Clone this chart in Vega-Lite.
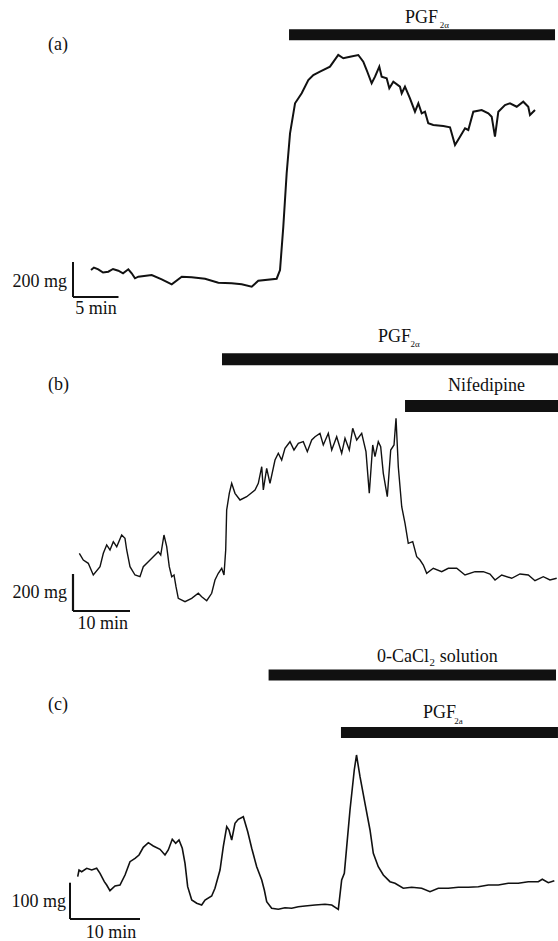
{
  "$schema": "https://vega.github.io/schema/vega-lite/v6.json",
  "padding": 0,
  "spacing": 0,
  "bounds": "flush",
  "background": "white",
  "config": {"view": {"stroke": null}, "text": {"font": "Liberation Serif", "color": "#111"}},
  "vconcat": [
    {
      "width": 558, "height": 320,
      "layer": [
        {
          "data": {"values": [
            {"t":1.98,"mg":154.3},{"t":2.3,"mg":168},{"t":2.78,"mg":158.3},{"t":3.3,"mg":140},{"t":3.88,"mg":144.6},{"t":4.4,"mg":160},{"t":4.98,"mg":150.3},{"t":5.5,"mg":135},{"t":6.08,"mg":158.3},{"t":6.45,"mg":135.4},{"t":6.81,"mg":106.9},{"t":7.18,"mg":116},{"t":8.65,"mg":125.7},{"t":9.75,"mg":101.1},{"t":10.85,"mg":72.6},{"t":11.95,"mg":116},{"t":13.04,"mg":112.6},{"t":14.51,"mg":104.6},{"t":15.97,"mg":81.7},{"t":17.44,"mg":78.3},{"t":18.54,"mg":72.6},{"t":19.64,"mg":58.9},{"t":20.36,"mg":93.1},{"t":22.38,"mg":104.6},{"t":22.75,"mg":154.3},{"t":23.11,"mg":401.7},{"t":23.48,"mg":706.9},{"t":23.85,"mg":935.4},{"t":24.4,"mg":1106.9},{"t":25.13,"mg":1164},{"t":25.86,"mg":1240},{"t":26.41,"mg":1268.6},{"t":27.14,"mg":1287.4},{"t":28.24,"mg":1316},{"t":29.15,"mg":1382.9},{"t":29.7,"mg":1364},{"t":30.44,"mg":1373.1},{"t":31.35,"mg":1382.9},{"t":31.9,"mg":1344.6},{"t":32.27,"mg":1297.1},{"t":32.82,"mg":1221.1},{"t":33.19,"mg":1258.9},{"t":33.66,"mg":1316},{"t":33.92,"mg":1258.9},{"t":34.47,"mg":1249.7},{"t":34.76,"mg":1192.6},{"t":35.2,"mg":1230.3},{"t":35.93,"mg":1201.7},{"t":36.12,"mg":1164},{"t":36.48,"mg":1201.7},{"t":37.03,"mg":1135.4},{"t":37.58,"mg":1058.9},{"t":37.95,"mg":1106.9},{"t":38.32,"mg":1049.7},{"t":38.68,"mg":1058.9},{"t":39.04,"mg":992.6},{"t":39.59,"mg":982.9},{"t":40.69,"mg":977.1},{"t":41.43,"mg":969.7},{"t":41.98,"mg":868.6},{"t":42.53,"mg":916},{"t":43.08,"mg":964},{"t":43.44,"mg":954.3},{"t":43.99,"mg":1058.9},{"t":44.91,"mg":1068.6},{"t":45.64,"mg":1049.7},{"t":46.01,"mg":1030.3},{"t":46.37,"mg":916},{"t":46.74,"mg":1058.9},{"t":47.47,"mg":1097.1},{"t":48.02,"mg":1106.9},{"t":48.76,"mg":1087.4},{"t":49.48,"mg":1116},{"t":50.03,"mg":1087.4},{"t":50.22,"mg":1040},{"t":50.77,"mg":1068.6}
          ]},
          "mark": {"type": "line", "color": "#111", "strokeWidth": 2},
          "encoding": {
            "x": {"field": "t", "type": "quantitative", "scale": {"domain": [-8.022, 53.297], "nice": false, "zero": false}, "axis": null},
            "y": {"field": "mg", "type": "quantitative", "scale": {"domain": [-131.4, 1697.1], "nice": false, "zero": false}, "axis": null}
          }
        },
        {
          "data": {"values": [{"drug": "PGF2α", "start": 23.74, "end": 52.97, "level": 1498.9}]},
          "mark": {"type": "rule", "color": "#111", "strokeWidth": 11, "strokeCap": "butt"},
          "encoding": {
            "x": {"field": "start", "type": "quantitative"},
            "x2": {"field": "end"},
            "y": {"field": "level", "type": "quantitative"}
          }
        },
        {
          "data": {"values": [{"t":0,"t2":0,"mg":0,"mg2":200},{"t":0,"t2":5,"mg":0,"mg2":0}]},
          "mark": {"type": "rule", "color": "#111", "strokeWidth": 2},
          "encoding": {
            "x": {"field": "t", "type": "quantitative"},
            "x2": {"field": "t2"},
            "y": {"field": "mg", "type": "quantitative"},
            "y2": {"field": "mg2"}
          }
        },
        {
          "data": {"values": [{"label":"(a)","t":-2.747,"mg":1440},{"label":"PGF","t":36.48,"mg":1592.6}]},
          "mark": {"type": "text", "font": "Liberation Serif, DejaVu Serif, serif", "fontSize": 18, "align": "left", "baseline": "middle"},
          "encoding": {"x": {"field": "t", "type": "quantitative"}, "y": {"field": "mg", "type": "quantitative"}, "text": {"field": "label"}}
        },
        {
          "data": {"values": [{"label":"2α","t":40.3,"mg":1555}]},
          "mark": {"type": "text", "font": "Liberation Serif, DejaVu Serif, serif", "fontSize": 9, "align": "left", "baseline": "middle"},
          "encoding": {"x": {"field": "t", "type": "quantitative"}, "y": {"field": "mg", "type": "quantitative"}, "text": {"field": "label"}}
        },
        {
          "data": {"values": [{"label":"200 mg","t":-0.659,"mg":85.7}]},
          "mark": {"type": "text", "font": "Liberation Serif, DejaVu Serif, serif", "fontSize": 18, "align": "right", "baseline": "middle"},
          "encoding": {"x": {"field": "t", "type": "quantitative"}, "y": {"field": "mg", "type": "quantitative"}, "text": {"field": "label"}}
        },
        {
          "data": {"values": [{"label":"5 min","t":2.53,"mg":-68.6}]},
          "mark": {"type": "text", "font": "Liberation Serif, DejaVu Serif, serif", "fontSize": 18, "align": "center", "baseline": "middle"},
          "encoding": {"x": {"field": "t", "type": "quantitative"}, "y": {"field": "mg", "type": "quantitative"}, "text": {"field": "label"}}
        }
      ]
    },
    {
      "width": 558, "height": 320,
      "layer": [
        {
          "data": {"values": [
            {"t":1.11,"mg":311.9},{"t":1.81,"mg":275.7},{"t":2.68,"mg":257.8},{"t":3.56,"mg":194.6},{"t":4.74,"mg":239.5},{"t":5.32,"mg":311.9},{"t":5.91,"mg":356.8},{"t":6.49,"mg":329.7},{"t":7.07,"mg":374.6},{"t":7.67,"mg":347.6},{"t":8.54,"mg":410.8},{"t":9.12,"mg":393},{"t":9.42,"mg":329.7},{"t":10.0,"mg":239.5},{"t":10.88,"mg":194.6},{"t":11.75,"mg":185.4},{"t":12.33,"mg":239.5},{"t":13.21,"mg":266.5},{"t":14.39,"mg":302.7},{"t":14.96,"mg":320.5},{"t":15.39,"mg":302.7},{"t":15.96,"mg":410.8},{"t":16.44,"mg":347.6},{"t":16.89,"mg":239.5},{"t":17.32,"mg":185.4},{"t":17.72,"mg":194.6},{"t":18.07,"mg":131.4},{"t":18.47,"mg":68.6},{"t":19.65,"mg":50.3},{"t":20.82,"mg":68.6},{"t":21.98,"mg":95.7},{"t":22.58,"mg":77.3},{"t":23.46,"mg":55.7},{"t":24.33,"mg":95.7},{"t":24.91,"mg":167.6},{"t":25.49,"mg":203.8},{"t":26.09,"mg":230.8},{"t":26.49,"mg":194.6},{"t":26.79,"mg":329.7},{"t":26.96,"mg":545.9},{"t":27.42,"mg":636.2},{"t":27.84,"mg":690.3},{"t":28.42,"mg":636.2},{"t":29.3,"mg":600},{"t":30.47,"mg":617.8},{"t":31.93,"mg":654.1},{"t":32.51,"mg":690.3},{"t":33.11,"mg":780},{"t":33.39,"mg":654.1},{"t":33.98,"mg":771.4},{"t":34.56,"mg":690.3},{"t":35.44,"mg":816.2},{"t":36.02,"mg":852.4},{"t":36.61,"mg":816.2},{"t":37.19,"mg":879.5},{"t":38.07,"mg":915.1},{"t":38.77,"mg":870.3},{"t":39.53,"mg":906.5},{"t":40.4,"mg":915.1},{"t":41.11,"mg":861.1},{"t":41.88,"mg":924.3},{"t":42.46,"mg":942.2},{"t":43.33,"mg":960.5},{"t":43.91,"mg":897.3},{"t":44.79,"mg":960.5},{"t":45.39,"mg":870.3},{"t":46.26,"mg":942.2},{"t":47.14,"mg":852.4},{"t":47.72,"mg":933.5},{"t":48.47,"mg":870.3},{"t":49.07,"mg":987.6},{"t":49.77,"mg":924.3},{"t":50.65,"mg":960.5},{"t":51.4,"mg":861.1},{"t":51.98,"mg":636.2},{"t":52.58,"mg":897.3},{"t":52.98,"mg":834.1},{"t":53.56,"mg":915.1},{"t":53.98,"mg":888.1},{"t":54.44,"mg":744.3},{"t":55.14,"mg":617.8},{"t":55.74,"mg":870.3},{"t":56.32,"mg":897.3},{"t":56.67,"mg":1041.6},{"t":57.07,"mg":780},{"t":57.67,"mg":563.8},{"t":58.25,"mg":474.1},{"t":58.82,"mg":365.9},{"t":59.6,"mg":374.6},{"t":60.3,"mg":293.5},{"t":60.88,"mg":275.7},{"t":61.46,"mg":248.6},{"t":62.05,"mg":203.8},{"t":63.21,"mg":230.8},{"t":64.68,"mg":212.4},{"t":65.84,"mg":230.8},{"t":67.32,"mg":230.8},{"t":68.77,"mg":194.6},{"t":70.53,"mg":212.4},{"t":71.98,"mg":212.4},{"t":73.16,"mg":200},{"t":74.04,"mg":167.6},{"t":75.21,"mg":194.6},{"t":76.96,"mg":176.8},{"t":78.42,"mg":200},{"t":79.88,"mg":194.6},{"t":81.05,"mg":163.8},{"t":82.51,"mg":185.4},{"t":83.68,"mg":167.6},{"t":84.86,"mg":176.8}
          ]},
          "mark": {"type": "line", "color": "#111", "strokeWidth": 1.4},
          "encoding": {
            "x": {"field": "t", "type": "quantitative", "scale": {"domain": [-12.807, 85.088], "nice": false, "zero": false}, "axis": null},
            "y": {"field": "mg", "type": "quantitative", "scale": {"domain": [-156.8, 1573.0], "nice": false, "zero": false}, "axis": null}
          }
        },
        {
          "data": {"values": [{"drug": "PGF2α", "start": 26.14, "end": 85.09, "level": 1360.5},{"drug": "Nifedipine", "start": 58.25, "end": 85.09, "level": 1108.1}]},
          "mark": {"type": "rule", "color": "#111", "strokeWidth": 12, "strokeCap": "butt"},
          "encoding": {
            "x": {"field": "start", "type": "quantitative"},
            "x2": {"field": "end"},
            "y": {"field": "level", "type": "quantitative"}
          }
        },
        {
          "data": {"values": [{"t":0,"t2":0,"mg":0,"mg2":200},{"t":0,"t2":10,"mg":0,"mg2":0}]},
          "mark": {"type": "rule", "color": "#111", "strokeWidth": 2.2},
          "encoding": {
            "x": {"field": "t", "type": "quantitative"},
            "x2": {"field": "t2"},
            "y": {"field": "mg", "type": "quantitative"},
            "y2": {"field": "mg2"}
          }
        },
        {
          "data": {"values": [{"label":"(b)","t":-4.386,"mg":1221.6},{"label":"PGF","t":53.51,"mg":1482.7},{"label":"Nifedipine","t":65.79,"mg":1216.2}]},
          "mark": {"type": "text", "font": "Liberation Serif, DejaVu Serif, serif", "fontSize": 18, "align": "left", "baseline": "middle"},
          "encoding": {"x": {"field": "t", "type": "quantitative"}, "y": {"field": "mg", "type": "quantitative"}, "text": {"field": "label"}}
        },
        {
          "data": {"values": [{"label":"2α","t":59.2,"mg":1445}]},
          "mark": {"type": "text", "font": "Liberation Serif, DejaVu Serif, serif", "fontSize": 9, "align": "left", "baseline": "middle"},
          "encoding": {"x": {"field": "t", "type": "quantitative"}, "y": {"field": "mg", "type": "quantitative"}, "text": {"field": "label"}}
        },
        {
          "data": {"values": [{"label":"200 mg","t":-1.053,"mg":95.7}]},
          "mark": {"type": "text", "font": "Liberation Serif, DejaVu Serif, serif", "fontSize": 18, "align": "right", "baseline": "middle"},
          "encoding": {"x": {"field": "t", "type": "quantitative"}, "y": {"field": "mg", "type": "quantitative"}, "text": {"field": "label"}}
        },
        {
          "data": {"values": [{"label":"10 min","t":5.2,"mg":-70.3}]},
          "mark": {"type": "text", "font": "Liberation Serif, DejaVu Serif, serif", "fontSize": 18, "align": "center", "baseline": "middle"},
          "encoding": {"x": {"field": "t", "type": "quantitative"}, "y": {"field": "mg", "type": "quantitative"}, "text": {"field": "label"}}
        }
      ]
    },
    {
      "width": 558, "height": 301,
      "layer": [
        {
          "data": {"values": [
            {"t":1.1,"mg":116.5},{"t":1.29,"mg":135.0},{"t":1.67,"mg":130.3},{"t":2.39,"mg":139.7},{"t":3.1,"mg":135.0},{"t":3.81,"mg":139.7},{"t":4.29,"mg":125.9},{"t":4.9,"mg":102.8},{"t":5.24,"mg":93.7},{"t":5.71,"mg":78.0},{"t":6.43,"mg":90.9},{"t":7.14,"mg":93.7},{"t":7.86,"mg":121.2},{"t":8.57,"mg":157.9},{"t":9.29,"mg":167.2},{"t":9.86,"mg":176.3},{"t":10.47,"mg":197.5},{"t":11.19,"mg":210.2},{"t":11.9,"mg":201.1},{"t":12.86,"mg":192.0},{"t":13.57,"mg":176.3},{"t":14.04,"mg":190.1},{"t":14.61,"mg":219.6},{"t":15.1,"mg":208.5},{"t":15.57,"mg":217.6},{"t":16.04,"mg":194.8},{"t":16.43,"mg":153.4},{"t":16.81,"mg":89.0},{"t":17.39,"mg":52.3},{"t":18.1,"mg":43.3},{"t":18.81,"mg":38.6},{"t":19.29,"mg":52.3},{"t":20.24,"mg":63.4},{"t":20.71,"mg":84.6},{"t":21.43,"mg":135.0},{"t":21.9,"mg":199.2},{"t":22.39,"mg":254.3},{"t":22.71,"mg":245.2},{"t":23.1,"mg":217.6},{"t":23.57,"mg":263.6},{"t":24.04,"mg":274.7},{"t":24.76,"mg":281.8},{"t":25.39,"mg":240.5},{"t":25.96,"mg":194.8},{"t":26.67,"mg":144.1},{"t":27.39,"mg":107.4},{"t":27.76,"mg":79.9},{"t":28.1,"mg":47.7},{"t":28.81,"mg":29.5},{"t":29.76,"mg":26.7},{"t":30.71,"mg":31.1},{"t":31.67,"mg":29.5},{"t":32.61,"mg":33.9},{"t":33.57,"mg":35.8},{"t":35.0,"mg":38.6},{"t":36.43,"mg":40.5},{"t":37.39,"mg":38.6},{"t":38.33,"mg":26.7},{"t":38.81,"mg":107.4},{"t":39.19,"mg":125.9},{"t":39.53,"mg":199.2},{"t":40.0,"mg":300.3},{"t":40.61,"mg":410.5},{"t":40.93,"mg":451.8},{"t":41.43,"mg":392.0},{"t":42.14,"mg":318.7},{"t":42.86,"mg":245.2},{"t":43.33,"mg":181.0},{"t":44.04,"mg":144.1},{"t":44.76,"mg":121.2},{"t":45.71,"mg":102.8},{"t":46.43,"mg":98.3},{"t":47.61,"mg":84.6},{"t":48.81,"mg":87.3},{"t":50.24,"mg":84.6},{"t":51.43,"mg":75.2},{"t":52.61,"mg":84.6},{"t":54.04,"mg":84.6},{"t":55.47,"mg":87.3},{"t":56.9,"mg":87.3},{"t":58.33,"mg":89.0},{"t":59.76,"mg":93.7},{"t":61.19,"mg":93.7},{"t":62.61,"mg":98.3},{"t":64.04,"mg":98.3},{"t":65.47,"mg":102.8},{"t":66.9,"mg":102.8},{"t":67.47,"mg":109.4},{"t":68.33,"mg":100.0},{"t":69.19,"mg":105.5}
          ]},
          "mark": {"type": "line", "color": "#111", "strokeWidth": 1.6},
          "encoding": {
            "x": {"field": "t", "type": "quantitative", "scale": {"domain": [-10, 69.714], "nice": false, "zero": false}, "axis": null},
            "y": {"field": "mg", "type": "quantitative", "scale": {"domain": [-60.6, 768.6], "nice": false, "zero": false}, "axis": null}
          }
        },
        {
          "data": {"values": [{"drug": "0-CaCl2 solution", "start": 28.37, "end": 69.43, "level": 672.2},{"drug": "PGF2a", "start": 38.71, "end": 69.71, "level": 513.8}]},
          "mark": {"type": "rule", "color": "#111", "strokeWidth": 11, "strokeCap": "butt"},
          "encoding": {
            "x": {"field": "start", "type": "quantitative"},
            "x2": {"field": "end"},
            "y": {"field": "level", "type": "quantitative"}
          }
        },
        {
          "data": {"values": [{"t":0,"t2":0,"mg":0,"mg2":100},{"t":0,"t2":10,"mg":0,"mg2":0}]},
          "mark": {"type": "rule", "color": "#111", "strokeWidth": 2},
          "encoding": {
            "x": {"field": "t", "type": "quantitative"},
            "x2": {"field": "t2"},
            "y": {"field": "mg", "type": "quantitative"},
            "y2": {"field": "mg2"}
          }
        },
        {
          "data": {"values": [{"label":"(c)","t":-3.14,"mg":589.5},{"label":"0-CaCl₂ solution","t":43.86,"mg":722.6},{"label":"PGF","t":50.43,"mg":566.7}]},
          "mark": {"type": "text", "font": "Liberation Serif, DejaVu Serif, serif", "fontSize": 18, "align": "left", "baseline": "middle"},
          "encoding": {"x": {"field": "t", "type": "quantitative"}, "y": {"field": "mg", "type": "quantitative"}, "text": {"field": "label"}}
        },
        {
          "data": {"values": [{"label":"2a","t":54.9,"mg":545}]},
          "mark": {"type": "text", "font": "Liberation Serif, DejaVu Serif, serif", "fontSize": 9, "align": "left", "baseline": "middle"},
          "encoding": {"x": {"field": "t", "type": "quantitative"}, "y": {"field": "mg", "type": "quantitative"}, "text": {"field": "label"}}
        },
        {
          "data": {"values": [{"label":"100 mg","t":-0.571,"mg":47.7}]},
          "mark": {"type": "text", "font": "Liberation Serif, DejaVu Serif, serif", "fontSize": 18, "align": "right", "baseline": "middle"},
          "encoding": {"x": {"field": "t", "type": "quantitative"}, "y": {"field": "mg", "type": "quantitative"}, "text": {"field": "label"}}
        },
        {
          "data": {"values": [{"label":"10 min","t":5.86,"mg":-38.6}]},
          "mark": {"type": "text", "font": "Liberation Serif, DejaVu Serif, serif", "fontSize": 18, "align": "center", "baseline": "middle"},
          "encoding": {"x": {"field": "t", "type": "quantitative"}, "y": {"field": "mg", "type": "quantitative"}, "text": {"field": "label"}}
        }
      ]
    }
  ]
}
